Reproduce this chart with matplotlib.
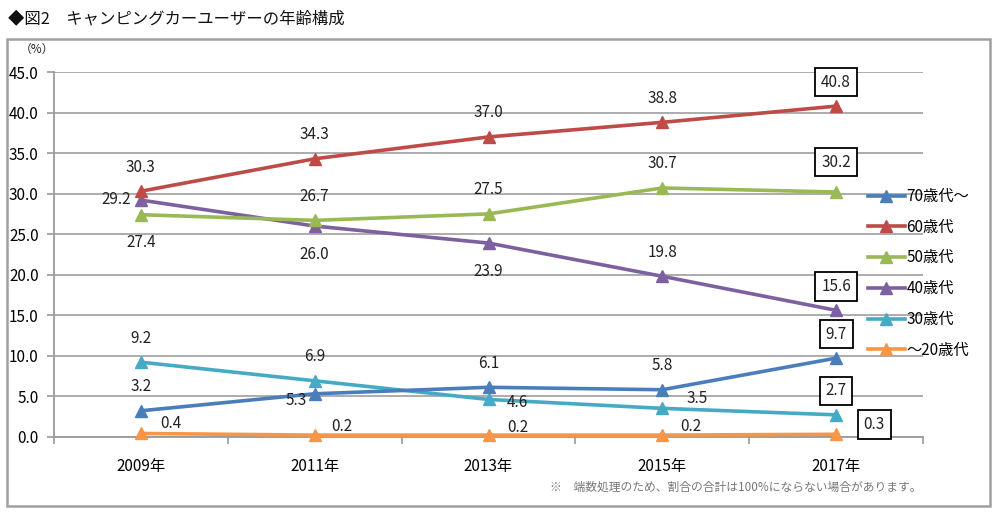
import matplotlib
matplotlib.use("Agg")
import matplotlib.pyplot as plt
from matplotlib.patches import Rectangle
from matplotlib.lines import Line2D

plt.rcParams['font.family'] = ['Noto Sans CJK JP', 'DejaVu Sans']

years = ['2009年', '2011年', '2013年', '2015年', '2017年']
series_names = ['70歳代～', '60歳代', '50歳代', '40歳代', '30歳代', '～20歳代']
v70 = [3.2, 5.3, 6.1, 5.8, 9.7]
v60 = [30.3, 34.3, 37.0, 38.8, 40.8]
v50 = [27.4, 26.7, 27.5, 30.7, 30.2]
v40 = [29.2, 26.0, 23.9, 19.8, 15.6]
v30 = [9.2, 6.9, 4.6, 3.5, 2.7]
v20 = [0.4, 0.2, 0.2, 0.2, 0.3]
values = [v70, v60, v50, v40, v30, v20]
colors = ['#4A7EBB', '#BE4B48', '#98B954', '#7D60A0', '#46AAC5', '#F79646']

# label placement per point (pixel offsets)
A = (0, 24); B = (0, -28)
placements = [
    [A, (-18, -7), A, A, A],
    [A, A, A, A, A],
    [B, A, A, A, (0, 30)],
    [(-25, 1), B, B, A, A],
    [A, A, (29, -3), (35, 10), A],
    [(30, 10), (27, 9), (29, 8), (29, 9), (38, 10)],
]

fig = plt.figure(figsize=(10, 5.15), dpi=100)
ax = fig.add_axes([0.054, 0.152, 0.869, 0.708])

x = list(range(len(years)))
order = [5, 4, 3, 2, 1, 0]
for i in order:
    ax.plot(x, values[i], color=colors[i], lw=2.6, marker='^', markersize=9,
            markeredgecolor=colors[i], zorder=3 + (5 - i) * 0.1, clip_on=False)

for i in range(len(values)):
    for j, v in enumerate(values[i]):
        dx, dy = placements[i][j]
        last = (j == len(years) - 1)
        kw = {}
        if last:
            kw['bbox'] = dict(boxstyle='square,pad=0.38', fc='white', ec='black', lw=1.3)
        ax.annotate(f'{v:.1f}', (j, v), xytext=(dx, dy), textcoords='offset pixels',
                    ha='center', va='center', fontsize=11, color='#222222', zorder=6, **kw)

ax.set_xlim(-0.5, 4.5)
ax.set_ylim(0, 45)
ax.set_yticks([i * 5 for i in range(10)])
ax.set_yticklabels([f'{i * 5:.1f}' for i in range(10)], fontsize=11)
ax.set_xticks(x)
ax.set_xticklabels(years, fontsize=11)
ax.set_xticks([-0.5, 0.5, 1.5, 2.5, 3.5, 4.5], minor=True)
ax.tick_params(axis='x', which='major', length=0, pad=15)
ax.tick_params(axis='x', which='minor', length=5, color='#9A9A9A', width=1.2)
ax.tick_params(axis='y', length=5, color='#9A9A9A', width=1.2, pad=6)
ax.grid(axis='y', color='#A6A6A6', lw=1.3)
ax.set_axisbelow(True)
for s in ['top', 'right']:
    ax.spines[s].set_visible(False)
for s in ['left', 'bottom']:
    ax.spines[s].set_color('#9A9A9A')
    ax.spines[s].set_linewidth(1.3)

handles = [Line2D([], [], color=c, lw=2.6, marker='^', markersize=9) for c in colors]
leg = fig.legend(handles, series_names, loc='upper left', bbox_to_anchor=(0.862, 0.647),
                 frameon=False, fontsize=11, handlelength=2.4, handletextpad=0.1,
                 labelspacing=0.9, borderaxespad=0)

fig.text(0.008, 0.962, '◆図2　キャンピングカーユーザーの年齢構成', fontsize=11.8,
         ha='left', va='center', color='#111111')
fig.text(0.02, 0.905, '（%）', fontsize=8.5, ha='left', va='center', color='#222222')
fig.text(0.922, 0.054, '※　端数処理のため、割合の合計は100%にならない場合があります。',
         fontsize=8.5, ha='right', va='center', color='#777777')

fig.patches.append(Rectangle((0.007, 0.017), 0.983, 0.907, transform=fig.transFigure,
                             fill=False, ec='#A0A0A0', lw=1.8))

fig.savefig('out.png', dpi=100)
